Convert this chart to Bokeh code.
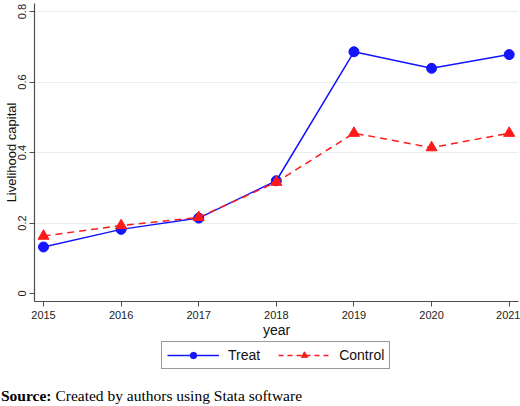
from bokeh.plotting import figure
from bokeh.layouts import column
from bokeh.models import Range1d, FixedTicker, Legend, LegendItem, Div
from bokeh.embed import file_html
from bokeh.resources import INLINE

# Livelihood capital by year
years = [2015, 2016, 2017, 2018, 2019, 2020, 2021]
treat = [0.132, 0.182, 0.214, 0.320, 0.686, 0.639, 0.678]
control = [0.163, 0.193, 0.216, 0.316, 0.455, 0.414, 0.455]
y_ticks = [0, 0.2, 0.4, 0.6, 0.8]
y_tick_labels = ["0", "0.2", "0.4", "0.6", "0.8"]
series_names = ["Treat", "Control"]

SANS = "Liberation Sans"
SERIF = "Liberation Serif"
BLUE = "#1414ff"
RED = "#ff1a1a"

p = figure(width=520, height=340,
           x_range=Range1d(2014.884, 2021.12),
           y_range=Range1d(-0.0227, 0.823),
           output_backend="svg", toolbar_location=None,
           min_border_left=34, min_border_right=2,
           min_border_top=3, min_border_bottom=39,
           background_fill_color="white", border_fill_color="white")
p.outline_line_color = None

# axes
p.xaxis.ticker = FixedTicker(ticks=years)
p.xaxis.axis_label = "year"
p.yaxis.ticker = FixedTicker(ticks=y_ticks)
p.yaxis.major_label_overrides = dict(zip(y_ticks, y_tick_labels))
p.yaxis.axis_label = "Livelihood capital"
p.yaxis.major_label_orientation = "vertical"
for ax in (p.xaxis[0], p.yaxis[0]):
    ax.axis_line_color = "#4d4d4d"
    ax.axis_line_width = 1.2
    ax.major_tick_line_color = "#4d4d4d"
    ax.major_tick_out = 5
    ax.major_tick_in = 0
    ax.minor_tick_line_color = None
    ax.major_label_text_font = SANS
    ax.major_label_text_font_size = "11px"
    ax.major_label_text_color = "#222222"
    ax.axis_label_text_font = SANS
    ax.axis_label_text_font_style = "normal"
    ax.axis_label_text_color = "#111111"
p.xaxis.axis_label_text_font_size = "14px"
p.yaxis.axis_label_text_font_size = "13px"
p.xaxis.major_label_standoff = 4
p.xaxis.axis_label_standoff = 0
p.yaxis.major_label_standoff = 3
p.yaxis.axis_label_standoff = -3
p.yaxis.major_label_text_line_height = 0.9
p.yaxis.axis_label_text_line_height = 0.6

p.xgrid.grid_line_color = None
p.ygrid.ticker = FixedTicker(ticks=y_ticks[1:])
p.ygrid.grid_line_color = "#e6eef0"
p.ygrid.grid_line_width = 1

# series
p.line(years, treat, line_color=BLUE, line_width=1.5)
p.scatter(years, treat, marker="circle", size=10,
          fill_color=BLUE, line_color=BLUE)
p.line(years, control, line_color=RED, line_width=1.5, line_dash="7 5")
p.scatter(years, control, marker="triangle", size=11,
          fill_color=RED, line_color=RED)

# legend strip under the axis; its glyphs fall outside the strip's ranges
# and only serve as legend keys
lg = figure(width=520, height=38, output_backend="svg", toolbar_location=None,
            x_axis_type=None, y_axis_type=None, min_border=0,
            x_range=Range1d(0, 1), y_range=Range1d(0, 1),
            background_fill_color="white", border_fill_color="white")
lg.outline_line_color = None
lg.grid.visible = False
k1 = lg.line(years, treat, line_color=BLUE, line_width=1.5)
k2 = lg.scatter(years, treat, marker="circle", size=10,
                fill_color=BLUE, line_color=BLUE)
k3 = lg.line(years, control, line_color=RED, line_width=1.5, line_dash="5 4")
k4 = lg.scatter(years, control, marker="triangle", size=11,
                fill_color=RED, line_color=RED)
legend = Legend(items=[LegendItem(label=series_names[0], renderers=[k1, k2]),
                       LegendItem(label=series_names[1], renderers=[k3, k4])],
                orientation="horizontal", location=(127, 9),
                glyph_width=52, glyph_height=16, label_height=16,
                label_standoff=9, spacing=18, padding=5, margin=0,
                label_text_font=SANS, label_text_font_size="14px",
                label_text_color="#111111",
                border_line_color="#333333", border_line_width=1,
                background_fill_alpha=1)
lg.add_layout(legend)

# source note under the chart
note = Div(text="<b>Source:</b> Created by authors using Stata software",
           width=520, height=28, margin=(0, 0, 0, 0),
           styles={"font-family": SERIF, "font-size": "15.5px",
                   "color": "black", "padding-left": "1px",
                   "padding-top": "9px", "line-height": "18px"})

page = column(p, lg, note, spacing=0)
open("out.html", "w").write(file_html(page, INLINE))
